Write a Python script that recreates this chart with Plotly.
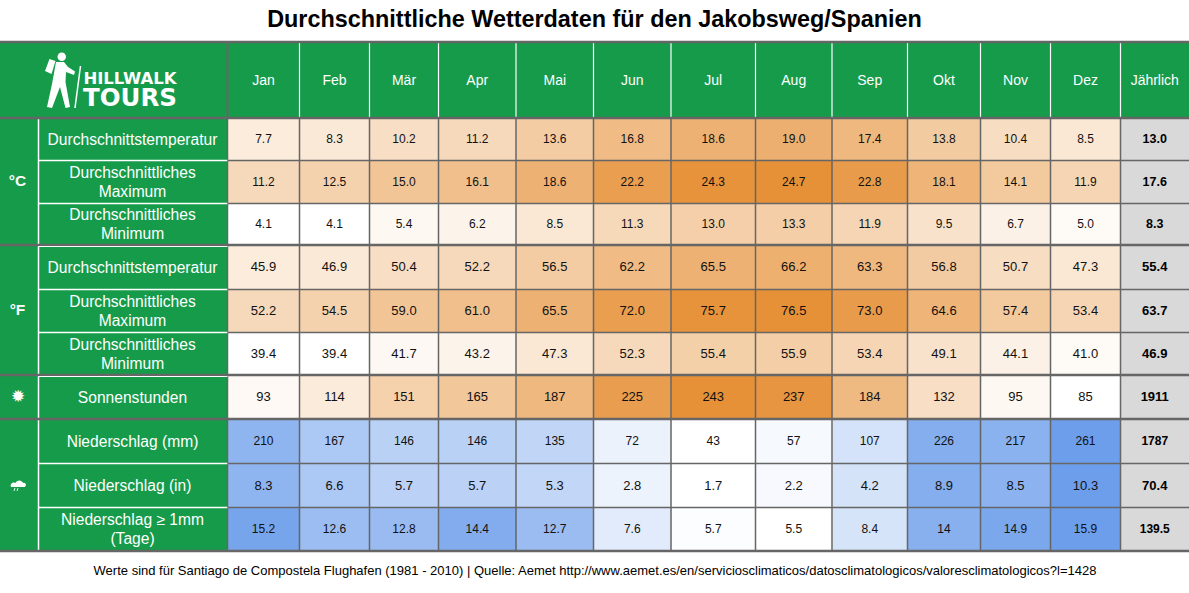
import plotly.graph_objects as go

TITLE = "Durchschnittliche Wetterdaten für den Jakobsweg/Spanien"
FOOT = ("Werte sind für Santiago de Compostela Flughafen (1981 - 2010) | Quelle: Aemet "
        "http://www.aemet.es/en/serviciosclimaticos/datosclimatologicos/valoresclimatologicos?l=1428")
months = ["Jan", "Feb", "Mär", "Apr", "Mai", "Jun", "Jul", "Aug", "Sep", "Okt", "Nov", "Dez", "Jährlich"]
row_labels = ["Durchschnittstemperatur", "Durchschnittliches<br>Maximum", "Durchschnittliches<br>Minimum",
              "Durchschnittstemperatur", "Durchschnittliches<br>Maximum", "Durchschnittliches<br>Minimum",
              "Sonnenstunden", "Niederschlag (mm)", "Niederschlag (in)", "Niederschlag ≥ 1mm<br>(Tage)"]

c_avg = "7.7 8.3 10.2 11.2 13.6 16.8 18.6 19.0 17.4 13.8 10.4 8.5 13.0".split()
c_max = "11.2 12.5 15.0 16.1 18.6 22.2 24.3 24.7 22.8 18.1 14.1 11.9 17.6".split()
c_min = "4.1 4.1 5.4 6.2 8.5 11.3 13.0 13.3 11.9 9.5 6.7 5.0 8.3".split()
f_avg = "45.9 46.9 50.4 52.2 56.5 62.2 65.5 66.2 63.3 56.8 50.7 47.3 55.4".split()
f_max = "52.2 54.5 59.0 61.0 65.5 72.0 75.7 76.5 73.0 64.6 57.4 53.4 63.7".split()
f_min = "39.4 39.4 41.7 43.2 47.3 52.3 55.4 55.9 53.4 49.1 44.1 41.0 46.9".split()
sun = "93 114 151 165 187 225 243 237 184 132 95 85 1911".split()
rain_mm = "210 167 146 146 135 72 43 57 107 226 217 261 1787".split()
rain_in = "8.3 6.6 5.7 5.7 5.3 2.8 1.7 2.2 4.2 8.9 8.5 10.3 70.4".split()
rain_days = "15.2 12.6 12.8 14.4 12.7 7.6 5.7 5.5 8.4 14 14.9 15.9 139.5".split()

rows = [c_avg, c_max, c_min, f_avg, f_max, f_min, sun, rain_mm, rain_in, rain_days]
# rows that share one colour scale; the last column (annual) stays grey
scale_groups = [[0, 1, 2], [3, 4, 5], [6], [7], [8], [9]]
val_size = [12, 12, 12, 13, 13, 13, 13, 12, 13, 12]
annual_size = [12.5, 12.5, 12.5, 13, 13, 13, 13, 12, 13, 12]

# layout grid, in page pixels
X = [0, 38.5, 227.5, 299.5, 369.5, 438.5, 516, 593.5, 671, 755.5, 832, 907.5, 980.5, 1050.5, 1120.5, 1189]
Y = [42, 118, 160.5, 203.5, 245, 289.5, 332.5, 375, 419, 463.5, 507.5, 551]
GREEN, GRID, ORANGE, BLUE, GREY = "#169b4a", "#666666", "#e69138", "#6d9eeb", "#d9d9d9"
FONT = "Liberation Sans"

norm = {}
for g in scale_groups:
    vals = [float(v) for r in g for v in rows[r][:12]]
    lo, hi = min(vals), max(vals)
    for r in g:
        norm[r] = [(float(v) - lo) / (hi - lo) for v in rows[r][:12]]

fig = go.Figure()
data_x = X[2:15]
fig.add_trace(go.Heatmap(x=data_x, y=Y[1:9], z=[norm[r] for r in range(7)], zmin=0, zmax=1,
                         colorscale=[[0, "#ffffff"], [1, ORANGE]], showscale=False, hoverinfo="skip"))
fig.add_trace(go.Heatmap(x=data_x, y=Y[8:12], z=[norm[r] for r in range(7, 10)], zmin=0, zmax=1,
                         colorscale=[[0, "#ffffff"], [1, BLUE]], showscale=False, hoverinfo="skip"))
fig.add_trace(go.Heatmap(x=X[14:16], y=Y[1:12], z=[[1]] * 10, zmin=0, zmax=1,
                         colorscale=[[0, GREY], [1, GREY]], showscale=False, hoverinfo="skip"))


def mid(a, i):
    return (a[i] + a[i + 1]) / 2


def text(x, y, t, size, color, weight="normal", family=FONT):
    fig.add_trace(go.Scatter(x=x, y=y, text=t, mode="text", hoverinfo="skip", showlegend=False, cliponaxis=False,
                             textposition="middle center",
                             textfont=dict(family=family, size=size, color=color, weight=weight)))


for r, row in enumerate(rows):
    yc = mid(Y, r + 1) + 0.8
    text([mid(X, c + 2) for c in range(12)], [yc] * 12, row[:12], val_size[r], "#111111")
    text([mid(X, 14)], [yc], [row[12]], annual_size[r], "#000000", "bold")

text([mid(X, c + 2) for c in range(13)], [81] * 13, months, [14] * 12 + [14], "#ffffff")
for r, lab in enumerate(row_labels):
    parts = lab.split("<br>")
    yc = mid(Y, r + 1) + 1.8
    ys = [yc] if len(parts) == 1 else [yc - 9.5, yc + 9.5]
    text([mid(X, 1) - 0.5] * len(parts), ys, parts, 15.6, "#ffffff")
text([17.5, 17.5], [182, 311], ["°C", "°F"], 15.5, "#ffffff", "bold")
text([594.5], [21], [TITLE], 23.4, "#000000", "bold")
text([595], [572], [FOOT], 13, "#000000")
text([130], [80], ["HILLWALK"], 16.5, "#ffffff", "bold", "DejaVu Sans")
text([130], [100], ["TOURS"], 24.5, "#ffffff", "bold", "DejaVu Sans")
text([17.5], [397.5], ["✹"], 17, "#ffffff")

shapes = [dict(type="rect", x0=0, x1=1189, y0=Y[0], y1=Y[-1], fillcolor=GREEN, line_width=0, layer="below")]


def line(x0, y0, x1, y1, color, w):
    shapes.append(dict(type="line", x0=x0, y0=y0, x1=x1, y1=y1, line=dict(color=color, width=w)))


for x in X[3:15]:
    line(x, Y[0], x, Y[1], "#ffffff", 1.2)
    line(x, Y[1], x, Y[-1], GRID, 1.5)
line(X[2], Y[0], X[2], Y[1], GRID, 2)
line(X[2], Y[1], X[2], Y[-1], GRID, 1.5)
line(X[1], Y[1], X[1], Y[-1], "#ffffff", 1.5)
heavy = {0, 1, 4, 7, 8, 11}
for i, y in enumerate(Y):
    if i in heavy:
        line(0, y, 1189, y, GRID, 2.5)
    else:
        line(X[1], y, X[2], y, "#ffffff", 1.5)
        line(X[2], y, 1189, y, GRID, 1.5)
for i in (4, 7):
    line(X[1], Y[i] + 1.5, X[2], Y[i] + 1.5, "#ffffff", 1.2)

# logo hiker and rain icon
shapes += [
    dict(type="circle", x0=57.5, x1=66, y0=52.5, y1=61, fillcolor="#fff", line_width=0),
    dict(type="path", path="M45,71 L49.5,59 L55.5,61 L51.5,74 Z", fillcolor="#fff", line_width=0),
    dict(type="path", path="M56,62 L64,62 L68,67 L75,71.5 L74,75 L66,72 L65.5,82 L70,107 L65.5,108 L60,87 L52,108 L47,107 L52,84 Z",
         fillcolor="#fff", line_width=0),
    dict(type="line", x0=75, y0=108, x1=80.5, y1=66, line=dict(color="#fff", width=1.5)),
    dict(type="path", path="M11,487 C9.5,483 14,481.5 15.5,483 C16.5,479.5 22,479.5 23,483 C26,482 27,486.5 24.5,487 Z",
         fillcolor="#fff", line_width=0),
    dict(type="line", x0=15, y0=488, x1=14, y1=491, line=dict(color="#dfe", width=1)),
    dict(type="line", x0=18, y0=488, x1=17, y1=491, line=dict(color="#dfe", width=1)),
]

fig.update_layout(width=1189, height=593, margin=dict(l=0, r=0, t=0, b=0), showlegend=False,
                  paper_bgcolor="#ffffff", plot_bgcolor="#ffffff", shapes=shapes,
                  xaxis=dict(range=[0, 1189], visible=False, fixedrange=True),
                  yaxis=dict(range=[593, 0], visible=False, fixedrange=True))
fig.write_html("out.html", config=dict(displayModeBar=False),
               post_script="document.body.style.margin='0';document.body.style.overflow='hidden';")
